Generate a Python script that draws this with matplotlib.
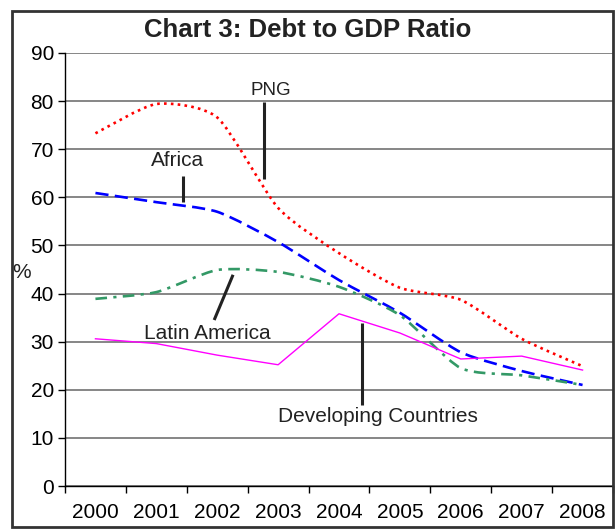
import matplotlib
matplotlib.use("Agg")
import matplotlib.pyplot as plt
from matplotlib.path import Path
from matplotlib.patches import PathPatch, Rectangle

plt.rcParams['font.family'] = ['Liberation Sans', 'DejaVu Sans']

years = ['2000', '2001', '2002', '2003', '2004', '2005', '2006', '2007', '2008']
png = [73.3, 79.4, 76.6, 57.8, 48.4, 41.2, 38.7, 30.6, 24.9]
africa = [60.9, 59.0, 57.0, 50.7, 42.8, 36.0, 27.8, 23.9, 21.0]
latin_america = [38.9, 40.3, 44.9, 44.5, 41.4, 35.5, 24.5, 23.0, 21.0]
developing = [30.6, 29.6, 27.2, 25.2, 35.8, 31.8, 26.4, 27.0, 24.1]

# label text, text position, leader line start, leader line end
callouts = [
    ('PNG', (2.88, 82.3), (2.77, 79.8), (2.77, 63.8)),
    ('Africa', (1.34, 67.6), (1.44, 64.4), (1.44, 59.0)),
    ('Latin America', (1.83, 31.8), (2.26, 43.9), (1.95, 34.5)),
    ('Developing Countries', (4.64, 14.5), (4.38, 33.9), (4.38, 16.8)),
]


def smooth_path(xs, ys, k=9.0):
    # cubic Bezier through every point, tangent from neighbours (smoothed line)
    pts = list(zip(xs, ys))
    verts = [pts[0]]
    codes = [Path.MOVETO]
    n = len(pts)
    for i in range(n - 1):
        p0 = pts[i - 1] if i > 0 else pts[i]
        p1 = pts[i]
        p2 = pts[i + 1]
        p3 = pts[i + 2] if i + 2 < n else pts[i + 1]
        c1 = (p1[0] + (p2[0] - p0[0]) / k, p1[1] + (p2[1] - p0[1]) / k)
        c2 = (p2[0] - (p3[0] - p1[0]) / k, p2[1] - (p3[1] - p1[1]) / k)
        verts += [c1, c2, p2]
        codes += [Path.CURVE4] * 3
    return Path(verts, codes)


fig = plt.figure(figsize=(6.16, 5.29), dpi=100)
ax = fig.add_axes([65 / 616, 1 - 486 / 529, 548 / 616, 433 / 529])

xs = list(range(len(years)))

for vals, color, ls, lw in [
    (png, '#ff0000', (0, (1, 1.6)), 1.9),
    (africa, '#0000ff', (0, (5, 2.4)), 1.9),
    (latin_america, '#339966', (0, (4.4, 2.4, 1.2, 2.4)), 1.9),
]:
    ax.add_patch(PathPatch(smooth_path(xs, vals), fill=False, edgecolor=color,
                           linewidth=lw, linestyle=ls, capstyle='butt', zorder=3))

ax.plot(xs, developing, color='#ff00ff', linewidth=1.0, zorder=3)

for text, tpos, p0, p1 in callouts:
    ax.plot([p0[0], p1[0]], [p0[1], p1[1]], color='#222222', linewidth=2.2,
            solid_capstyle='butt', zorder=4)
    size = 13.5 if text == 'PNG' else 15
    ax.text(tpos[0], tpos[1], text, ha='center', va='center', fontsize=size,
            color='#222222', zorder=5)

ax.set_xlim(-0.5, len(years) - 0.5)
ax.set_ylim(0, 90)
ax.set_yticks(range(0, 91, 10))
ax.yaxis.grid(True, color='#666666', linewidth=1.1)
ax.set_axisbelow(True)

ax.set_xticks([i - 0.5 for i in range(len(years) + 1)])
ax.set_xticklabels([])
ax.set_xticks(xs, minor=True)
ax.set_xticklabels(years, minor=True)
ax.tick_params(axis='x', which='major', direction='out', length=5, width=1)
ax.tick_params(axis='x', which='minor', length=0, pad=12, labelsize=15)
ax.tick_params(axis='y', direction='out', length=5, width=1, labelsize=15, pad=3)

for side in ['top', 'right']:
    ax.spines[side].set_visible(False)
for side in ['left', 'bottom']:
    ax.spines[side].set_color('black')
    ax.spines[side].set_linewidth(1)

fig.text(22 / 616, 1 - 272 / 529, '%', ha='center', va='center', fontsize=15,
         color='#222222')
fig.text(308 / 616, 1 - 30 / 529, 'Chart 3: Debt to GDP Ratio', ha='center',
         va='center', fontsize=18.5, fontweight='bold', color='#222222')

fig.patches.append(Rectangle((12 / 616, 1 - 527 / 529), 601 / 616, 516 / 529,
                             transform=fig.transFigure, fill=False,
                             edgecolor='#333333', linewidth=2))

fig.savefig('out.png', dpi=100)
